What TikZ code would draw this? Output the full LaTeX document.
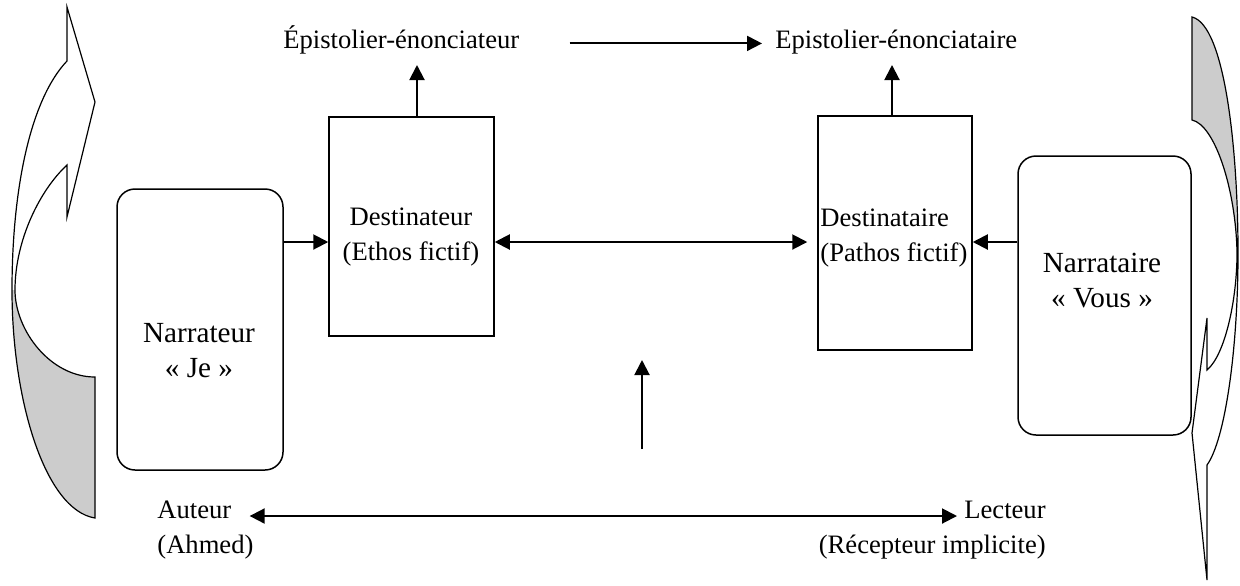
\documentclass[tikz,border=0pt]{standalone}
\usepackage{fontspec}
\setmainfont{Liberation Serif}
\usepackage{tikz}
\usetikzlibrary{arrows.meta,calc,positioning}

\definecolor{backside}{RGB}{204,204,204}

\tikzset{
  box/.style={draw, line width=0.75pt, inner sep=0pt},
  rbox/.style={box, rounded corners=9pt},
  txt/.style={inner sep=0pt, font=\fontsize{13.3}{17.5}\selectfont},
  bigtxt/.style={inner sep=0pt, font=\fontsize{14.6}{17.5}\selectfont},
  link/.style={line width=1pt, ->},
  curl/.style={line width=0.6pt, line join=miter}
}

\begin{document}
\begin{tikzpicture}[%
>={Triangle[length=7.5pt,width=7.5pt]},
x=0.5pt, y=-0.5pt
]
\useasboundingbox (0,0) rectangle (1240,585);

% boxes
\node[rbox, minimum width=83pt, minimum height=140.5pt] (narrateur) at (200,329.5) {};
\node[box, minimum width=82.5pt, minimum height=109.5pt] (destinateur) at (411.5,226.5) {};
\node[box, minimum width=77pt, minimum height=117pt] (destinataire) at (895,233) {};
\node[rbox, minimum width=86.5pt, minimum height=139.5pt] (narrataire) at (1104.5,295.5) {};

% texts
\node[bigtxt, align=center, anchor=north] (narrateurTxt) at (199,323) {Narrateur\\« Je »};
\node[txt, align=center, anchor=north] (destinateurTxt) at (411,207) {Destinateur\\(Ethos fictif)};
\node[txt, align=left, anchor=north west] (destinataireTxt) at (820,208) {Destinataire\\(Pathos fictif)};
\node[bigtxt, align=center, anchor=north] (narrataireTxt) at (1102,253) {Narrataire\\« Vous »};

\node[txt, anchor=base west] (epA) at (283,48) {Épistolier-énonciateur};
\node[txt, anchor=base west] (epB) at (775,48) {Epistolier-énonciataire};

\node[txt, anchor=base west] (auteur) at (157,518) {Auteur};
\node[txt, anchor=base west] (ahmed) at (157,553) {(Ahmed)};
\node[txt, anchor=base east] (lecteur) at (1046,518) {Lecteur};
\node[txt, anchor=base east] (recepteur) at (1046,553) {(Récepteur implicite)};

% arrows
\coordinate (lvl) at (0,242);
\coordinate (low) at (0,516);
\coordinate (tipA) at (417,65);
\coordinate (tipB) at (892,65);
\coordinate (foot) at (642,449);

\draw[link] (narrateur.east |- lvl) -- (destinateur.west |- lvl);
\draw[link, <->, shorten >=5pt] (destinateur.east |- lvl) -- (destinataire.west |- lvl);
\draw[link] (narrataire.west |- lvl) -- (destinataire.east |- lvl);
\draw[link] (destinateur.north -| tipA) -- (tipA);
\draw[link] (destinataire.north -| tipB) -- (tipB);
\draw[link, shorten <=25pt, shorten >=6.5pt] (epA.mid east) -- (epB.mid west);
\draw[link] (foot) -- ++(0,-89);
\draw[link, <->, shorten <=9pt, shorten >=3.5pt] (auteur.east |- low) -- (lecteur.west |- low);

% left curl
\fill[backside] (15,290) .. controls (15,330) and (50,377) .. (95,377) -- (95,518)
  .. controls (45,510) and (12,400) .. (12,290) -- cycle;
\draw[curl] (67,61) .. controls (30,100) and (12,190) .. (12,290)
  .. controls (12,400) and (45,510) .. (95,518) -- (95,377)
  .. controls (50,377) and (15,330) .. (15,290)
  .. controls (15,240) and (40,190) .. (67,165)
  -- (67,217) -- (95,102) -- (67,7) -- cycle;

% right curl
\fill[backside] (1192,17) -- (1192,120) .. controls (1215,125) and (1236,190) .. (1237,253)
  .. controls (1238,150) and (1225,25) .. (1192,17) -- cycle;
\draw[curl] (1192,17) -- (1192,120) .. controls (1215,125) and (1236,190) .. (1237,253)
  .. controls (1237,300) and (1225,355) .. (1207,370)
  -- (1207,318) -- (1192,433) -- (1207,580) -- (1207,465)
  .. controls (1225,440) and (1238,350) .. (1238,253)
  .. controls (1238,150) and (1225,25) .. (1192,17) -- cycle;
\end{tikzpicture}
\end{document}
